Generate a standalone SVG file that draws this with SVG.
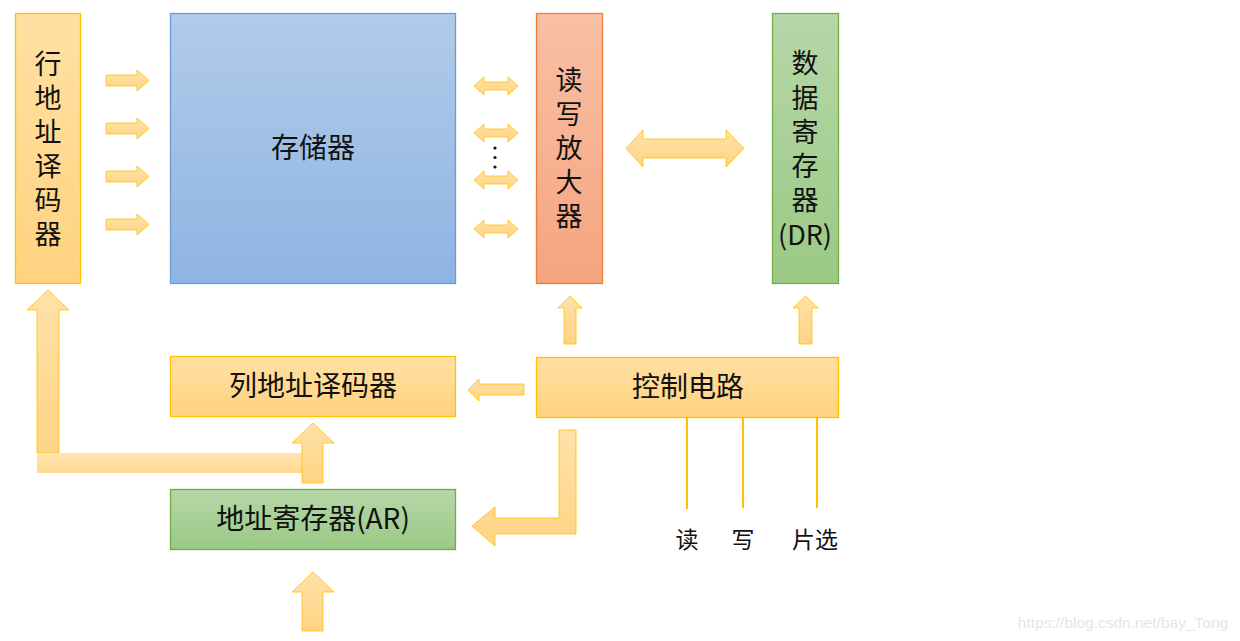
<svg xmlns="http://www.w3.org/2000/svg" width="1240" height="641" viewBox="0 0 1240 641">
<defs>
<linearGradient id="gY" x1="0" y1="0" x2="0" y2="1"><stop offset="0" stop-color="#FFE0A3"/><stop offset="1" stop-color="#FFD37F"/></linearGradient>
<linearGradient id="gB" x1="0" y1="0" x2="0" y2="1"><stop offset="0" stop-color="#B1CBE9"/><stop offset="1" stop-color="#8EB4E3"/></linearGradient>
<linearGradient id="gO" x1="0" y1="0" x2="0" y2="1"><stop offset="0" stop-color="#F8C0A5"/><stop offset="1" stop-color="#F5A47F"/></linearGradient>
<linearGradient id="gG" x1="0" y1="0" x2="0" y2="1"><stop offset="0" stop-color="#B6D7A8"/><stop offset="1" stop-color="#9BC985"/></linearGradient>
<linearGradient id="gA" x1="0" y1="0" x2="0" y2="1"><stop offset="0" stop-color="#FFE2A8"/><stop offset="1" stop-color="#FFD485"/></linearGradient>
</defs>
<style>
.t{font-family:"Noto Sans CJK SC","Noto Sans",sans-serif;font-size:27px;fill:#111;text-anchor:middle;dominant-baseline:central}
.h{font-size:28px}
.s{font-family:"Noto Sans CJK SC","Noto Sans",sans-serif;font-size:23px;fill:#111;text-anchor:middle;dominant-baseline:central}
.y{fill:url(#gY);stroke:#FFC000;stroke-width:1.3}
.a{fill:url(#gA);stroke:#FFC000;stroke-width:1;stroke-opacity:0.8}
.ln{stroke:#FFC000;stroke-width:2;fill:none}
</style>

<g id="row-decoder">
<rect x="15.5" y="13.5" width="65" height="270" class="y"/>
<text class="t" x="48" y="62">行</text><text class="t" x="48" y="96">地</text><text class="t" x="48" y="130">址</text><text class="t" x="48" y="164">译</text><text class="t" x="48" y="198">码</text><text class="t" x="48" y="232">器</text>
</g>
<g id="memory">
<rect x="170.5" y="13.5" width="285" height="270" fill="url(#gB)" stroke="#6A9BD3" stroke-width="1.3"/>
<text class="t h" x="313" y="146">存储器</text>
</g>
<g id="rw-amp">
<rect x="536.5" y="13.5" width="66" height="270" fill="url(#gO)" stroke="#ED7D31" stroke-width="1.3"/>
<text class="t" x="569" y="78">读</text><text class="t" x="569" y="112">写</text><text class="t" x="569" y="146">放</text><text class="t" x="569" y="180">大</text><text class="t" x="569" y="214">器</text>
</g>
<g id="data-register">
<rect x="772.5" y="13.5" width="66" height="270" fill="url(#gG)" stroke="#70AD47" stroke-width="1.3"/>
<text class="t" x="805" y="61">数</text><text class="t" x="805" y="96">据</text><text class="t" x="805" y="130">寄</text><text class="t" x="805" y="164">存</text><text class="t" x="805" y="198">器</text><text class="t" x="805" y="233">(DR)</text>
</g>
<g id="col-decoder">
<rect x="170.5" y="356.5" width="285" height="60" class="y"/>
<text class="t h" x="313" y="384">列地址译码器</text>
</g>
<g id="control">
<rect x="536.5" y="357.5" width="302" height="60" class="y"/>
<text class="t h" x="688" y="385">控制电路</text>
</g>
<g id="address-register">
<rect x="170.5" y="489.5" width="285" height="60" fill="url(#gG)" stroke="#70AD47" stroke-width="1.3"/>
<text class="t h" x="313" y="517">地址寄存器(AR)</text>
</g>

<g id="connectors">
<path class="a" d="M106,75 H137 V70 L149,80.5 L137,91 V86 H106 Z"/>
<path class="a" d="M106,123 H137 V118 L149,128.5 L137,139 V134 H106 Z"/>
<path class="a" d="M106,171 H137 V166 L149,176.5 L137,187 V182 H106 Z"/>
<path class="a" d="M106,219 H137 V214 L149,224.5 L137,235 V230 H106 Z"/>
<path class="a" d="M474,86 L484,77 V82 H508 V77 L518,86 L508,95 V90 H484 V95 Z"/>
<path class="a" d="M474,133 L484,124 V129 H508 V124 L518,133 L508,142 V137 H484 V142 Z"/>
<path class="a" d="M474,180 L484,171 V176 H508 V171 L518,180 L508,189 V184 H484 V189 Z"/>
<path class="a" d="M474,229 L484,220 V225 H508 V220 L518,229 L508,238 V233 H484 V238 Z"/>
<circle cx="495" cy="148" r="1.6" fill="#111"/><circle cx="495" cy="157.5" r="1.6" fill="#111"/><circle cx="495" cy="167" r="1.6" fill="#111"/>
<path class="a" d="M626,148.5 L643,130 V139 H726 V130 L744,148.5 L726,167 V158 H643 V167 Z"/>
<path class="a" d="M564,344 V308 H558 L570,296 L582,308 H576 V344 Z"/>
<path class="a" d="M799,344 V308 H793 L805.5,296 L818,308 H812 V344 Z"/>
<path class="a" d="M524,384 H479 V379 L468,390 L479,401 V395 H524 Z"/>
<path class="a" d="M559,430 H576 V534 H495 V546 L472,526 L495,507 V518 H559 Z"/>
<path class="a" d="M37,453 V310 H27 L48,290 L69,310 H59 V453 Z"/>
<rect x="37" y="453" width="286" height="20" fill="url(#gA)" opacity="0.9"/>
<path class="a" d="M302,483 V443 H292 L313,423 L334,443 H323 V483 Z"/>
<path class="a" d="M302,631 V592 H292 L313,572 L334,592 H323 V631 Z"/>
<line class="ln" x1="687" y1="417" x2="687" y2="509"/>
<line class="ln" x1="743" y1="417" x2="743" y2="508"/>
<line class="ln" x1="817" y1="417" x2="817" y2="508"/>
</g>
<text class="s" x="687" y="538">读</text>
<text class="s" x="743" y="538">写</text>
<text class="s" x="815" y="538">片选</text>
<text x="1123" y="622" font-family="Liberation Sans, Arial, sans-serif" font-size="15.5" fill="#E6E6E6" text-anchor="middle" dominant-baseline="central">https://blog.csdn.net/bay_Tong</text>
</svg>
